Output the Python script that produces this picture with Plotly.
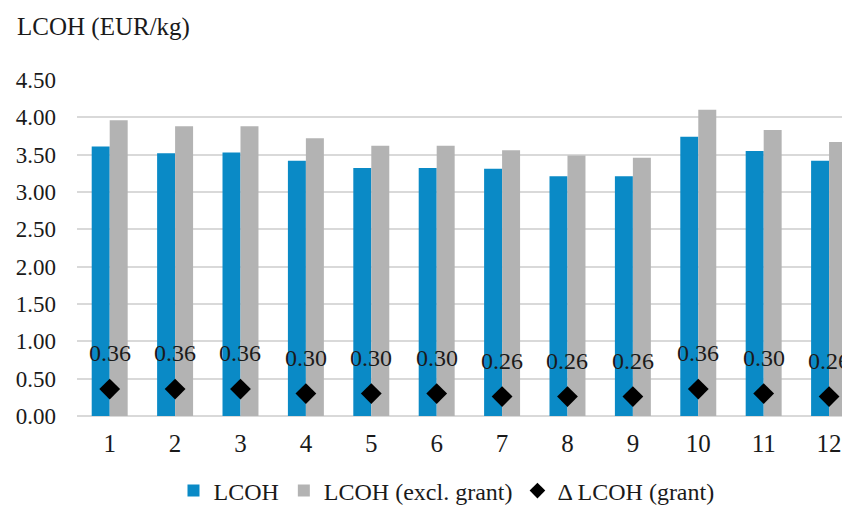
import plotly.graph_objects as go

categories = [1, 2, 3, 4, 5, 6, 7, 8, 9, 10, 11, 12]
lcoh = [3.61, 3.52, 3.53, 3.42, 3.32, 3.32, 3.31, 3.21, 3.21, 3.74, 3.55, 3.42]
lcoh_excl_grant = [3.96, 3.88, 3.88, 3.72, 3.62, 3.62, 3.56, 3.49, 3.46, 4.10, 3.83, 3.67]
delta_grant = [0.36, 0.36, 0.36, 0.30, 0.30, 0.30, 0.26, 0.26, 0.26, 0.36, 0.30, 0.26]
y_ticks = [0.0, 0.5, 1.0, 1.5, 2.0, 2.5, 3.0, 3.5, 4.0, 4.5]

FONT = "Liberation Serif, Times New Roman, serif"
TXT = "#1a1a1a"

# page has an 8px body margin; figure sized to fill the rest of the 850x506 window
W, H = 842, 498
L, T, PH = 69, 72, 336
B = H - T - PH

fig = go.Figure()
fig.add_trace(go.Bar(x=categories, y=lcoh, name="LCOH", marker=dict(color="#0a8ac6", line=dict(width=0))))
fig.add_trace(go.Bar(x=categories, y=lcoh_excl_grant, name="LCOH (excl. grant)",
                     marker=dict(color="#b3b3b3", line=dict(width=0))))
fig.add_trace(go.Scatter(x=categories, y=delta_grant, name="Δ LCOH (grant)", mode="markers",
                         marker=dict(symbol="diamond", size=16, color="black")))

for c, d in zip(categories, delta_grant):
    fig.add_annotation(x=c, y=d, text=f"{d:.2f}", showarrow=False, yshift=36,
                       yanchor="middle", font=dict(family=FONT, size=24, color=TXT))

fig.add_annotation(xref="paper", yref="paper", x=(7 - L) / (W - L), y=(T + PH - 19) / PH,
                   text="LCOH (EUR/kg)", showarrow=False, xanchor="left", yanchor="middle",
                   font=dict(family=FONT, size=25, color=TXT))

fig.update_layout(
    width=W, height=H,
    margin=dict(l=L, r=0, t=T, b=B, autoexpand=False),
    plot_bgcolor="white", paper_bgcolor="white",
    barmode="group", bargap=0.45, bargroupgap=0,
    font=dict(family=FONT, size=24, color=TXT),
    showlegend=True,
    legend=dict(orientation="h", xref="paper", yref="paper", x=0.478, y=(T + PH - 483) / PH,
                xanchor="center", yanchor="middle", font=dict(family=FONT, size=24, color=TXT),
                itemwidth=30, itemsizing="constant", tracegroupgap=0),
)
fig.update_xaxes(range=[0.5, 12.32], tickvals=categories, ticktext=[str(c) for c in categories],
                 showgrid=False, zeroline=False, showline=False, ticks="", ticklabelstandoff=10,
                 tickfont=dict(family=FONT, size=25, color=TXT))
fig.update_yaxes(range=[0, 4.5], tickvals=y_ticks, ticktext=[f"{v:.2f}" for v in y_ticks],
                 showgrid=True, gridcolor="#d9d9d9", gridwidth=1.5, zeroline=True, zerolinecolor="#d9d9d9",
                 zerolinewidth=1.5, showline=False, ticks="", ticklabelstandoff=20,
                 tickfont=dict(family=FONT, size=23, color=TXT))

fig.write_html("out.html")
